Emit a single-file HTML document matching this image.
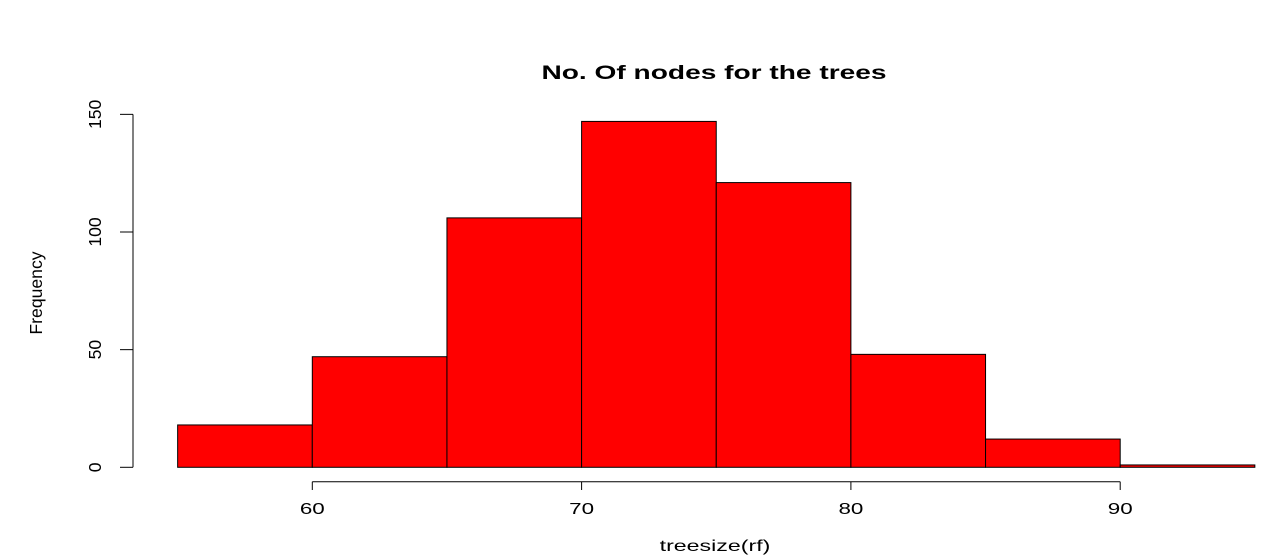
<!DOCTYPE html>
<html><head><meta charset="utf-8"><style>
html,body{margin:0;padding:0;background:#fff;width:1282px;height:555px;overflow:hidden}
svg text{font-family:"Liberation Sans",sans-serif;fill:#000}
</style></head><body>
<svg id="chart" width="1282" height="555" viewBox="0 0 1282 555" xmlns="http://www.w3.org/2000/svg">
<text transform="translate(714,79) scale(1.48,1)" text-anchor="middle" font-size="19" font-weight="bold">No. Of nodes for the trees</text>
<text transform="translate(715,551) scale(1.45,1)" text-anchor="middle" font-size="16">treesize(rf)</text>
<text transform="translate(42,293) rotate(-90) scale(1.1,1.1)" text-anchor="middle" font-size="16">Frequency</text>
<g id="bars"></g>
<g id="axes"></g>
</svg>
<script>
const binEdges = [55, 60, 65, 70, 75, 80, 85, 90, 95];
const counts = [18, 47, 106, 147, 121, 48, 12, 1];
const xTicks = [60, 70, 80, 90];
const yTicks = [0, 50, 100, 150];

const NS = "http://www.w3.org/2000/svg";
const x = v => 312.3 + (v - 60) * 26.93;
const y = v => 467.3 - v * 2.353;
const bars = document.getElementById('bars');
const axes = document.getElementById('axes');
function mk(tag, attrs, parent){const e=document.createElementNS(NS,tag);for(const k in attrs)e.setAttribute(k,attrs[k]);parent.appendChild(e);return e;}
counts.forEach((c,i)=>{
  const r = mk('rect',{x:x(binEdges[i]),y:y(c),width:x(binEdges[i+1])-x(binEdges[i]),height:y(0)-y(c),fill:'#ff0000',stroke:'#000','stroke-width':1},bars);
  
  
});
const xl = mk('line',{x1:x(xTicks[0]),x2:x(xTicks[xTicks.length-1]),y1:481.7,y2:481.7,stroke:'#000','stroke-width':1},axes);


xTicks.forEach(t=>{
  const tk = mk('line',{x1:x(t),x2:x(t),y1:481.7,y2:490,stroke:'#000'},axes);
  
  
  const tx = mk('text',{transform:`translate(${x(t)},514) scale(1.4,1)`,'text-anchor':'middle','font-size':16},axes);
  tx.textContent = t;
  
  
});
const yl = mk('line',{x1:133,x2:133,y1:y(yTicks[0]),y2:y(yTicks[yTicks.length-1]),stroke:'#000','stroke-width':1},axes);


yTicks.forEach(t=>{
  const tk = mk('line',{x1:120,x2:133,y1:y(t),y2:y(t),stroke:'#000'},axes);
  
  
  const tx = mk('text',{transform:`translate(101,${y(t)}) rotate(-90) scale(1.1,1.1)`,'text-anchor':'middle','font-size':16},axes);
  tx.textContent = t;
  
  
});
</script>
</body></html>
